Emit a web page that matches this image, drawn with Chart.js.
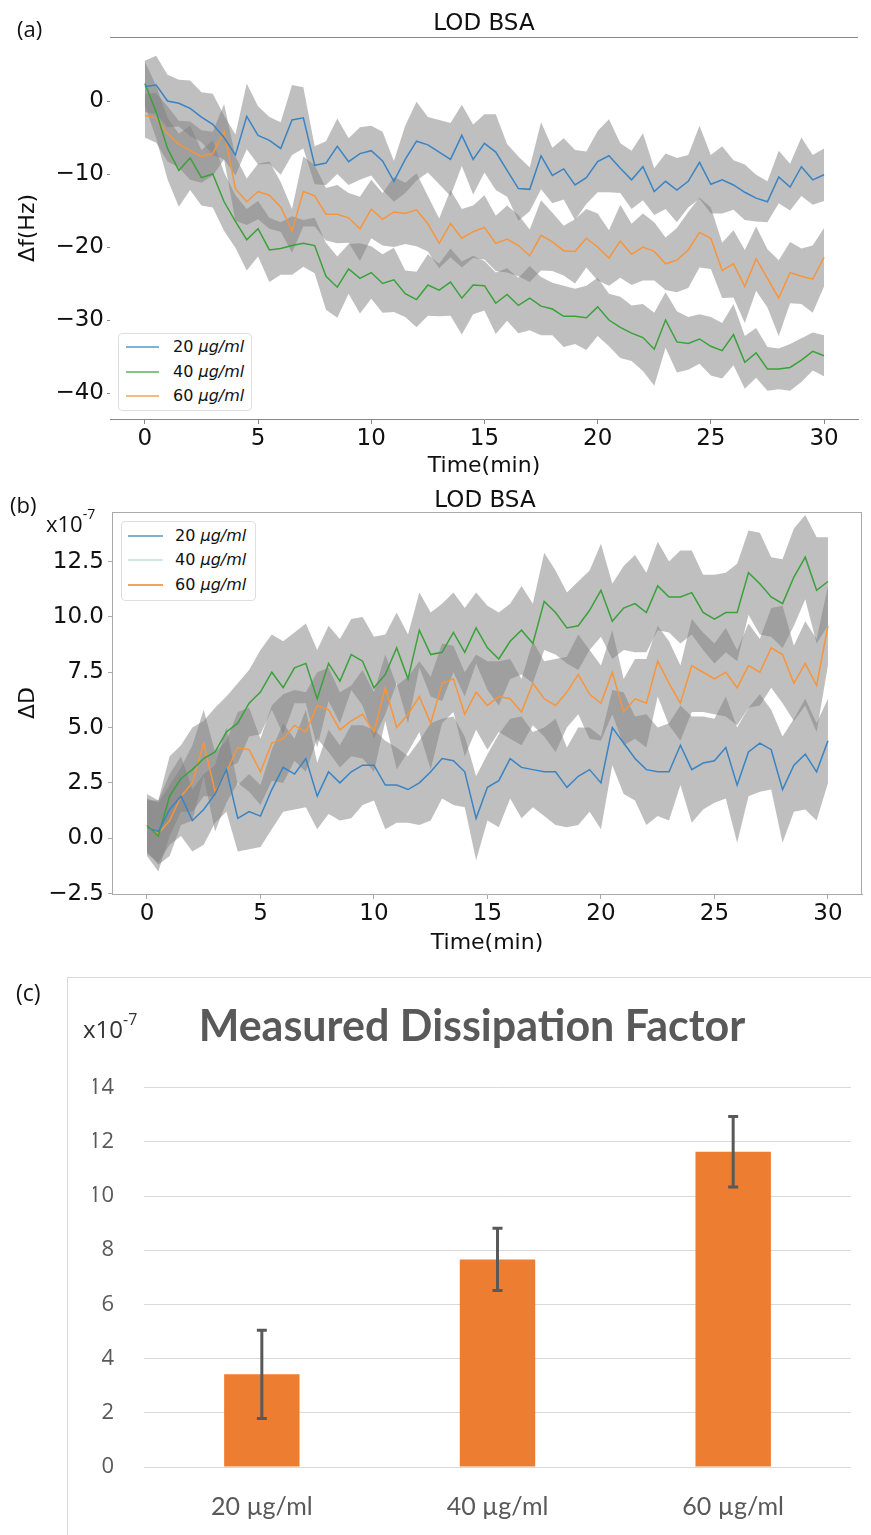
<!DOCTYPE html>
<html>
<head>
<meta charset="utf-8">
<title>LOD BSA</title>
<script src="https://cdn.jsdelivr.net/npm/chart.js@4.4.1/dist/chart.umd.min.js"></script>
<style>
  body { margin: 0; background: #fff; }
  #page { position: relative; width: 871px; height: 1535px; overflow: hidden; font-family: "DejaVu Sans", sans-serif; color: #111; }
  canvas { position: absolute; left: 0; }
  .txt { position: absolute; white-space: nowrap; line-height: 1; }
  .mid { transform: translate(-50%, -50%); }
  .legend { position: absolute; background: #fff; border: 1px solid #dedede; border-radius: 4px; font-size: 16px; }
  .legend .row { position: absolute; left: 0; height: 20px; line-height: 20px; white-space: nowrap; }
  .legend .sw { position: absolute; top: 9px; height: 0; border-top: 2px solid; }
  #boxC { position: absolute; left: 67px; top: 977px; width: 900px; height: 700px; border: 1px solid #d9d9d9; }
</style>
</head>
<body>
<div id="page">
  <div id="boxC"></div>
  <canvas id="chartA" width="871" height="480" style="top:0"></canvas>
  <canvas id="chartB" width="871" height="480" style="top:480px"></canvas>
  <canvas id="chartC" width="871" height="575" style="top:960px"></canvas>

  <div class="txt" style="left:17px;top:13px;font:22px 'Open Sans'">(a)</div>
  <div class="txt mid" style="left:484px;top:22px;font-size:23px">LOD BSA</div>
  <div class="legend" style="left:118px;top:333px;width:132px;height:76px">
    <div class="row" style="top:3px"><span class="sw" style="left:7px;width:33px;border-color:#7fb2d6"></span><span style="position:absolute;left:54px">20 <i>μg/ml</i></span></div>
    <div class="row" style="top:28px"><span class="sw" style="left:7px;width:33px;border-color:#86c486"></span><span style="position:absolute;left:54px">40 <i>μg/ml</i></span></div>
    <div class="row" style="top:52px"><span class="sw" style="left:7px;width:33px;border-color:#f3bd82"></span><span style="position:absolute;left:54px">60 <i>μg/ml</i></span></div>
  </div>

  <div class="txt" style="left:10px;top:489px;font:22px 'Open Sans'">(b)</div>
  <div class="txt" style="left:46px;top:508px;font:22px 'Open Sans'">x10<span style="font-size:14px;position:relative;top:-13px">-7</span></div>
  <div class="txt mid" style="left:485px;top:499px;font-size:23px">LOD BSA</div>
  <div class="legend" style="left:121px;top:521px;width:133px;height:78px">
    <div class="row" style="top:4px"><span class="sw" style="left:6px;width:35px;border-color:#7fb4cc"></span><span style="position:absolute;left:53px">20 <i>μg/ml</i></span></div>
    <div class="row" style="top:28px"><span class="sw" style="left:6px;width:35px;border-color:#cfe8e0"></span><span style="position:absolute;left:53px">40 <i>μg/ml</i></span></div>
    <div class="row" style="top:53px"><span class="sw" style="left:6px;width:35px;border-color:#f2a45e"></span><span style="position:absolute;left:53px">60 <i>μg/ml</i></span></div>
  </div>

  <div class="txt" style="left:16px;top:976px;font:23px 'Open Sans'">(c)</div>
  <div class="txt" style="left:83px;top:1012px;font:24px 'Open Sans';color:#333">x10<span style="font-size:16px;position:relative;top:-13px">-7</span></div>
</div>

<script>
// time axis (min) and tick labels
var timeMin = [0, 0.5, 1, 1.5, 2, 2.5, 3, 3.5, 4, 4.5, 5, 5.5, 6, 6.5, 7, 7.5, 8, 8.5, 9, 9.5,
    10, 10.5, 11, 11.5, 12, 12.5, 13, 13.5, 14, 14.5, 15, 15.5, 16, 16.5, 17, 17.5, 18, 18.5, 19, 19.5,
    20, 20.5, 21, 21.5, 22, 22.5, 23, 23.5, 24, 24.5, 25, 25.5, 26, 26.5, 27, 27.5, 28, 28.5, 29, 29.5, 30];
var timeTicks = [0, 5, 10, 15, 20, 25, 30];
var freqTicks = [0, -10, -20, -30, -40];
var dissTicks = [-2.5, 0, 2.5, 5, 7.5, 10, 12.5];

// (a) frequency shift, Hz
var freq20 = [2.0, 2.2, 0.0, -0.3, -1.0, -2.2, -3.2, -5.0, -7.4, -2.1,
    -4.7, -5.4, -6.5, -2.6, -2.3, -8.8, -8.5, -6.2, -8.3, -7.2,
    -6.8, -8.2, -11.0, -8.0, -5.5, -6.0, -7.0, -8.0, -4.7, -8.0,
    -5.8, -7.0, -9.5, -12.0, -12.1, -7.5, -10.2, -9.3, -11.5, -10.5,
    -8.3, -7.5, -9.2, -10.8, -9.0, -12.4, -11.0, -12.2, -11.0, -8.4,
    -11.4, -10.8, -11.5, -12.5, -13.3, -13.8, -10.4, -11.8, -9.0, -10.8, -10.1];
var freq20Sd = [3.5, 4.0, 3.6, 3.2, 3.8, 3.4, 4.2, 3.0, 2.8, 4.5,
    4.0, 3.2, 3.6, 4.8, 4.2, 2.6, 3.0, 3.8, 3.2, 3.6,
    3.4, 4.0, 2.8, 4.6, 5.4, 3.8, 4.4, 5.0, 4.2, 4.8,
    4.0, 5.2, 3.6, 4.4, 3.0, 4.6, 3.8, 4.2, 4.8, 3.6,
    4.2, 5.0, 3.4, 4.0, 4.6, 3.2, 3.8, 4.4, 3.6, 5.0,
    4.0, 4.6, 3.4, 3.8, 3.2, 2.8, 3.6, 3.2, 4.0, 3.4, 3.6];
var freq40 = [2.4, -1.5, -6.5, -9.5, -7.8, -10.5, -10.0, -13.8, -16.5, -19.0,
    -17.5, -20.4, -20.2, -19.8, -19.5, -19.8, -24.0, -25.5, -23.0, -24.3,
    -23.5, -25.0, -24.5, -26.4, -27.2, -25.2, -25.9, -24.8, -27.0, -25.2,
    -25.3, -27.7, -26.5, -28.0, -27.0, -28.1, -28.5, -29.5, -29.5, -29.7,
    -28.2, -30.0, -31.0, -31.8, -32.4, -34.0, -30.0, -33.0, -33.2, -32.6,
    -33.6, -34.2, -32.0, -35.8, -34.5, -36.7, -36.7, -36.5, -35.5, -34.3, -34.9];
var freq40Sd = [3.0, 3.6, 4.2, 5.0, 4.4, 3.8, 4.6, 4.0, 3.6, 4.2,
    3.8, 4.4, 3.6, 4.0, 3.2, 3.8, 4.6, 4.2, 3.4, 4.8,
    3.6, 4.0, 4.4, 3.2, 3.8, 4.2, 3.6, 4.6, 5.0, 4.0,
    3.4, 4.2, 3.6, 3.8, 4.4, 4.0, 3.6, 4.2, 3.8, 4.4,
    4.0, 3.6, 4.2, 3.8, 4.6, 5.0, 3.8, 4.2, 3.6, 3.4,
    4.0, 3.8, 4.2, 3.6, 3.4, 3.0, 2.8, 3.2, 3.0, 2.6, 2.8];
var freq60 = [-2.0, -2.3, -4.5, -5.9, -6.8, -7.6, -7.2, -4.2, -12.0, -13.8,
    -12.4, -12.9, -14.5, -17.8, -12.4, -13.0, -15.5, -15.5, -16.0, -17.5,
    -14.8, -16.2, -15.2, -15.4, -14.9, -16.8, -19.5, -16.8, -18.8, -17.9,
    -17.3, -19.5, -18.9, -19.8, -21.2, -18.4, -19.3, -20.5, -20.6, -18.8,
    -20.0, -21.5, -19.2, -21.0, -20.0, -20.6, -22.3, -21.8, -20.4, -18.0,
    -18.8, -23.2, -22.3, -25.4, -21.6, -24.3, -27.0, -23.5, -24.0, -24.4, -21.4];
var freq60Sd = [3.0, 3.4, 3.8, 3.2, 4.0, 3.6, 3.0, 3.8, 4.4, 3.2,
    3.8, 4.6, 3.4, 3.0, 4.8, 4.2, 3.6, 4.0, 3.4, 4.4,
    4.0, 3.6, 4.8, 4.2, 5.0, 3.8, 3.4, 4.6, 4.0, 3.6,
    4.4, 3.8, 4.6, 4.2, 3.6, 4.8, 4.0, 3.4, 4.4, 4.0,
    4.6, 3.8, 5.0, 4.2, 4.6, 4.0, 3.6, 4.4, 5.2, 4.8,
    4.2, 3.8, 4.6, 5.0, 4.4, 4.0, 5.2, 4.2, 3.8, 4.6, 4.0];

// (b) dissipation shift, x10^-7
var diss20 = [0.5, 0.3, 1.3, 1.9, 0.8, 1.3, 2.0, 3.1, 0.9, 1.2,
    1.0, 2.2, 3.2, 2.9, 3.6, 1.9, 3.0, 2.5, 3.0, 3.3,
    3.3, 2.4, 2.4, 2.2, 2.5, 3.0, 3.6, 3.5, 3.0, 0.9,
    2.3, 2.6, 3.6, 3.2, 3.1, 3.0, 3.0, 2.3, 2.8, 3.1,
    2.5, 5.0, 4.3, 3.6, 3.1, 3.0, 3.0, 4.2, 3.1, 3.4,
    3.5, 4.1, 2.4, 3.9, 4.3, 4.0, 2.2, 3.3, 3.8, 3.0, 4.4];
var diss20Sd = [1.2, 1.4, 1.6, 1.8, 1.4, 1.6, 1.3, 1.9, 1.5, 1.7,
    1.4, 1.8, 2.0, 1.6, 2.2, 1.5, 1.9, 1.7, 2.1, 1.8,
    1.6, 2.0, 1.7, 1.5, 1.9, 2.2, 1.8, 2.0, 1.6, 1.9,
    1.5, 2.1, 1.8, 2.3, 1.7, 2.0, 2.4, 1.8, 2.2, 1.9,
    2.1, 1.7, 2.3, 1.9, 2.5, 2.0, 2.2, 1.8, 2.4, 2.1,
    1.9, 2.3, 2.6, 2.0, 2.2, 1.8, 2.4, 2.1, 2.5, 2.2, 1.9];
var diss40 = [0.6, 0.1, 1.9, 2.7, 3.1, 3.6, 3.9, 4.8, 5.2, 6.1,
    6.6, 7.5, 6.8, 7.7, 7.9, 6.3, 7.9, 7.1, 8.3, 8.0,
    6.8, 7.4, 8.6, 7.2, 9.4, 8.3, 8.4, 9.3, 8.4, 9.5,
    8.6, 8.1, 8.9, 9.4, 8.8, 10.7, 10.2, 9.5, 9.6, 10.3,
    11.2, 9.8, 10.4, 10.6, 10.2, 11.4, 10.9, 10.9, 11.1, 10.2,
    9.9, 10.2, 10.2, 12.0, 11.5, 10.9, 10.6, 11.8, 12.7, 11.2, 11.6];
var diss40Sd = [1.4, 1.6, 1.8, 1.5, 1.9, 1.7, 2.0, 1.6, 1.8, 1.5,
    1.9, 1.7, 2.1, 1.6, 1.8, 2.2, 1.7, 1.9, 1.6, 2.0,
    2.3, 1.8, 1.6, 2.0, 1.7, 1.9, 2.2, 1.8, 2.0, 1.6,
    1.9, 2.1, 1.7, 2.0, 1.8, 2.2, 1.9, 1.6, 2.0, 1.8,
    2.1, 1.7, 1.9, 2.2, 1.8, 2.0, 1.6, 2.1, 1.9, 1.7,
    2.0, 1.8, 2.2, 1.9, 2.3, 1.8, 2.0, 2.2, 1.9, 2.4, 2.0];
var diss60 = [0.6, 0.2, 0.8, 1.9, 2.5, 4.3, 2.1, 3.0, 4.1, 4.0,
    3.0, 4.3, 4.5, 5.1, 4.8, 6.0, 5.8, 4.9, 5.3, 5.6,
    4.8, 6.8, 5.0, 5.6, 6.4, 5.2, 7.0, 7.2, 5.6, 6.6,
    6.0, 6.4, 6.3, 5.7, 7.0, 6.3, 6.0, 6.6, 7.4, 6.5,
    6.1, 7.5, 5.7, 6.3, 6.1, 8.0, 7.0, 6.1, 7.8, 7.5,
    7.2, 7.5, 6.8, 7.8, 7.5, 8.6, 8.3, 7.0, 7.9, 6.9, 9.6];
var diss60Sd = [1.2, 1.4, 1.6, 1.3, 1.7, 1.5, 1.8, 1.4, 1.6, 1.9,
    1.5, 1.7, 2.0, 1.6, 1.8, 1.5, 1.9, 1.7, 1.6, 2.0,
    1.8, 1.5, 1.9, 1.7, 1.6, 2.1, 1.8, 1.5, 1.9, 1.7,
    2.0, 1.6, 1.8, 1.5, 1.9, 1.7, 2.1, 1.6, 1.8, 2.0,
    1.7, 1.9, 1.5, 1.8, 2.0, 1.6, 1.9, 1.7, 2.1, 1.8,
    1.6, 2.0, 1.7, 1.9, 1.5, 1.8, 2.2, 1.7, 1.9, 2.1, 1.8];

// (c) measured dissipation factor, x10^-7
var concLabels = ['20 µg/ml', '40 µg/ml', '60 µg/ml'];
var dissFactor = [3.42, 7.66, 11.63];
var dissFactorErr = [1.63, 1.15, 1.30];
var barTicks = [0, 2, 4, 6, 8, 10, 12, 14];

var BAND = 'rgba(128,128,128,0.5)';
var MINUS = '\u2212';

function signed(v, digits) {
    var s = digits ? Math.abs(v).toFixed(digits) : String(Math.abs(v));
    return (v < 0 ? MINUS : '') + s;
}

// mean line plus a shaded mean +/- sd band
function bandDatasets(mean, sd, color) {
    var upper = [], lower = [], line = [];
    for (var i = 0; i < timeMin.length; i++) {
        upper.push({x: timeMin[i], y: mean[i] + sd[i]});
        lower.push({x: timeMin[i], y: mean[i] - sd[i]});
        line.push({x: timeMin[i], y: mean[i]});
    }
    return [
        {data: upper, borderWidth: 0, borderColor: 'rgba(0,0,0,0)', pointRadius: 0, fill: false, order: 2},
        {data: lower, borderWidth: 0, borderColor: 'rgba(0,0,0,0)', pointRadius: 0, fill: '-1', backgroundColor: BAND, order: 2},
        {data: line, borderColor: color, borderWidth: 1.5, pointRadius: 0, fill: false, order: 1}
    ];
}

// extra spines that chart.js does not draw on its own
var frameLines = {
    id: 'frameLines',
    afterDraw: function(chart, args, opts) {
        var a = chart.chartArea, ctx = chart.ctx;
        ctx.save();
        ctx.strokeStyle = opts.color;
        ctx.lineWidth = 1;
        ctx.beginPath();
        if (opts.top) { ctx.moveTo(a.left, a.top + 0.5); ctx.lineTo(a.right, a.top + 0.5); }
        if (opts.right) { ctx.moveTo(a.right - 0.5, a.top); ctx.lineTo(a.right - 0.5, a.bottom); }
        ctx.stroke();
        ctx.restore();
    }
};

var errorBars = {
    id: 'errorBars',
    afterDatasetsDraw: function(chart) {
        var meta = chart.getDatasetMeta(0), y = chart.scales.y, ctx = chart.ctx;
        ctx.save();
        ctx.strokeStyle = '#595959';
        ctx.lineWidth = 3;
        meta.data.forEach(function(bar, i) {
            var top = y.getPixelForValue(dissFactor[i] + dissFactorErr[i]);
            var bot = y.getPixelForValue(dissFactor[i] - dissFactorErr[i]);
            ctx.beginPath();
            ctx.moveTo(bar.x, top); ctx.lineTo(bar.x, bot);
            ctx.moveTo(bar.x - 5, top); ctx.lineTo(bar.x + 5, top);
            ctx.moveTo(bar.x - 5, bot); ctx.lineTo(bar.x + 5, bot);
            ctx.stroke();
        });
        ctx.restore();
    }
};

function timeAxis(height, titlePad, borderColor) {
    return {
        type: 'linear', min: -1.54, max: 31.5,
        afterBuildTicks: function(axis) { axis.ticks = timeTicks.map(function(v) { return {value: v}; }); },
        afterFit: function(axis) { axis.height = height; },
        ticks: {color: '#111', font: {size: 23}, padding: 1, maxRotation: 0},
        grid: {drawOnChartArea: false, tickLength: 5, color: borderColor},
        border: {color: borderColor},
        title: {display: true, text: 'Time(min)', color: '#111', font: {size: 22}, padding: {top: 0, bottom: titlePad}}
    };
}

window.onload = function() {
    Chart.defaults.font.family = "'DejaVu Sans', sans-serif";
    Chart.defaults.animation = false;

    // (a) frequency shift
    new Chart(document.getElementById('chartA'), {
        type: 'line',
        data: {datasets: [].concat(
            bandDatasets(freq20, freq20Sd, '#3a84c4'),
            bandDatasets(freq40, freq40Sd, '#3aa23a'),
            bandDatasets(freq60, freq60Sd, '#f7953c'))},
        plugins: [frameLines],
        options: {
            responsive: false,
            layout: {padding: {top: 37, right: 13, bottom: 0, left: 0}},
            elements: {line: {tension: 0}},
            plugins: {legend: {display: false}, tooltip: {enabled: false}, frameLines: {top: true, color: '#888'}},
            scales: {
                x: timeAxis(61, 1, '#888'),
                y: {
                    min: -43.56, max: 8.77,
                    afterBuildTicks: function(axis) { axis.ticks = freqTicks.map(function(v) { return {value: v}; }); },
                    afterFit: function(axis) { axis.width = 110; },
                    ticks: {color: '#111', font: {size: 23}, padding: 3, callback: function(v) { return signed(v); }},
                    grid: {drawOnChartArea: false, tickLength: 3, color: '#888'},
                    border: {display: false},
                    title: {display: true, text: 'Δf(Hz)', color: '#111', font: {size: 22}, padding: {top: 15, bottom: 0}}
                }
            }
        }
    });

    // (b) dissipation shift
    new Chart(document.getElementById('chartB'), {
        type: 'line',
        data: {datasets: [].concat(
            bandDatasets(diss20, diss20Sd, '#3a84c4'),
            bandDatasets(diss40, diss40Sd, '#3aa23a'),
            bandDatasets(diss60, diss60Sd, '#f7953c'))},
        plugins: [frameLines],
        options: {
            responsive: false,
            layout: {padding: {top: 32, right: 9, bottom: 0, left: 0}},
            elements: {line: {tension: 0}},
            plugins: {legend: {display: false}, tooltip: {enabled: false}, frameLines: {top: true, right: true, color: '#aaa'}},
            scales: {
                x: timeAxis(66, 4, '#aaa'),
                y: {
                    min: -2.52, max: 14.74,
                    afterBuildTicks: function(axis) { axis.ticks = dissTicks.map(function(v) { return {value: v}; }); },
                    afterFit: function(axis) { axis.width = 112; },
                    ticks: {color: '#111', font: {size: 23}, padding: 4, callback: function(v) { return signed(v, 1); }},
                    grid: {drawOnChartArea: false, tickLength: 4, color: '#aaa'},
                    border: {color: '#aaa'},
                    title: {display: true, text: 'ΔD', color: '#111', font: {size: 22}, padding: {top: 15, bottom: 0}}
                }
            }
        }
    });

    // (c) bar chart with error bars
    new Chart(document.getElementById('chartC'), {
        type: 'bar',
        data: {
            labels: concLabels,
            datasets: [{data: dissFactor, backgroundColor: '#ED7D31', borderWidth: 0, barPercentage: 0.32, categoryPercentage: 1}]
        },
        plugins: [errorBars],
        options: {
            responsive: false,
            layout: {padding: {top: 0, right: 20, bottom: 0, left: 93}},
            plugins: {
                legend: {display: false}, tooltip: {enabled: false},
                title: {display: true, text: 'Measured Dissipation Factor', color: '#595959',
                    font: {family: 'Lato', size: 43, weight: 'bold'}, padding: {top: 41, bottom: 35}}
            },
            scales: {
                x: {
                    afterFit: function(axis) { axis.height = 68; },
                    ticks: {color: '#595959', font: {family: 'Lato', size: 25}, padding: 17},
                    grid: {display: false},
                    border: {display: false}
                },
                y: {
                    min: 0, max: 14,
                    afterBuildTicks: function(axis) { axis.ticks = barTicks.map(function(v) { return {value: v}; }); },
                    afterFit: function(axis) { axis.width = 51; },
                    ticks: {color: '#595959', font: {family: 'Open Sans', size: 22}, padding: 30},
                    grid: {color: '#d9d9d9', drawTicks: false},
                    border: {display: false}
                }
            }
        }
    });
};
</script>
</body>
</html>
